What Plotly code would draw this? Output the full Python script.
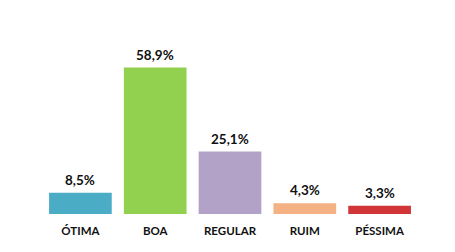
import plotly.graph_objects as go

categories = ["ÓTIMA", "BOA", "REGULAR", "RUIM", "PÉSSIMA"]
values = [8.5, 58.9, 25.1, 4.3, 3.3]
labels = ["8,5%", "58,9%", "25,1%", "4,3%", "3,3%"]
colors = ["#4BACC6", "#92D050", "#B3A2C7", "#F4B183", "#D13537"]

W, H = 455, 252
fig = go.Figure(go.Bar(x=categories, y=values, marker=dict(color=colors, line=dict(width=0)),
                       hoverinfo="skip"))

for c, v, t in zip(categories, values, labels):
    fig.add_annotation(x=c, y=v, text="<b>%s</b>" % t, showarrow=False,
                       yanchor="bottom", yshift=3,
                       font=dict(family="Lato", size=13.5, color="#111111"))

fig.update_layout(
    width=W, height=H,
    margin=dict(l=0, r=0, t=40, b=38, pad=0),
    paper_bgcolor="white", plot_bgcolor="white",
    bargap=0.162,
    showlegend=False,
    xaxis=dict(domain=[43 / W, 417 / W], showgrid=False, zeroline=False, showline=False,
               ticks="", ticklabelstandoff=8,
               tickfont=dict(family="Lato", size=11.5, color="#111111"),
               tickvals=categories, ticktext=["<b>%s</b>" % c for c in categories]),
    yaxis=dict(range=[0, 70], visible=False, showgrid=False, zeroline=False),
)

fig.write_html("out.html")
